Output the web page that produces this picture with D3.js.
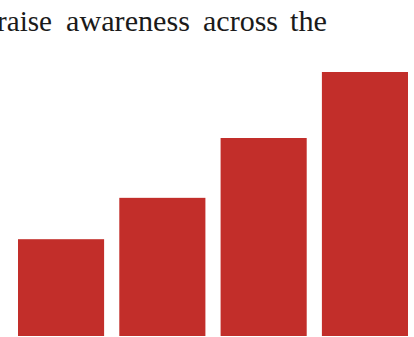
<!DOCTYPE html>
<html>
<head>
<meta charset="utf-8">
<script src="https://cdn.jsdelivr.net/npm/d3@7"></script>
<style>
  html, body { margin: 0; padding: 0; background: #fff; overflow: hidden; }
  svg { display: block; }
</style>
</head>
<body>
<svg id="chart" width="414" height="337"></svg>
<script>
// Bar categories and their values
const categories = ["Q1", "Q2", "Q3", "Q4"];
const values = [22, 31.4, 45, 60];
const headline = ["raise", "awareness", "across", "the"];

const svg = d3.select("#chart");

const x = d3.scaleBand()
  .domain(categories)
  .range([18, 408])
  .paddingInner(0.15)
  .paddingOuter(0);

const y = d3.scaleLinear()
  .domain([0, 75])
  .range([336, 6]);

// Headline line above the bars: justified words laid out one by one
const wordStarts = [-3, 66, 203, 290];
const wordWidths = [55, 124, 75, 37];
svg.append("g")
  .attr("font-family", "'Liberation Serif', 'Times New Roman', serif")
  .attr("font-size", 29)
  .attr("fill", "#1a1a1a")
  .selectAll("text")
  .data(headline)
  .join("text")
  .attr("x", (d, i) => wordStarts[i])
  .attr("y", 31)
  .attr("textLength", (d, i) => wordWidths[i])
  .attr("lengthAdjust", "spacingAndGlyphs")
  .text(d => d);

// Bars
svg.selectAll("rect.bar")
  .data(values)
  .join("rect")
  .attr("class", "bar")
  .attr("x", (d, i) => x(categories[i]))
  .attr("width", x.bandwidth())
  .attr("y", d => y(d))
  .attr("height", d => y(0) - y(d))
  .attr("fill", "#c22e2a");
</script>
</body>
</html>
